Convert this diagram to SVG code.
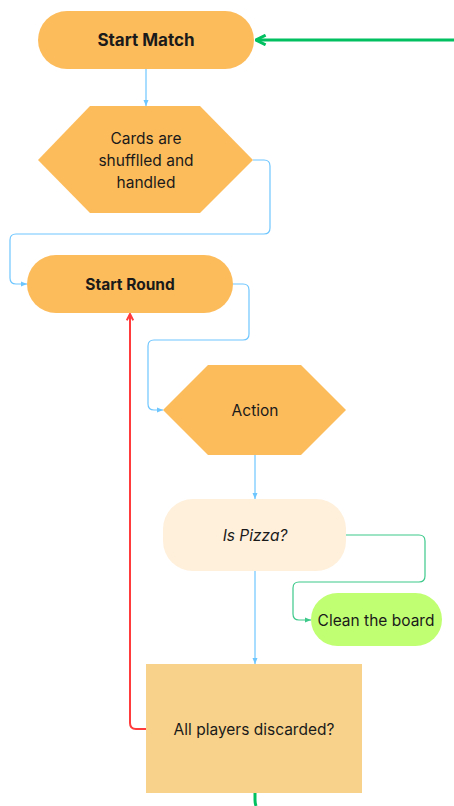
<svg xmlns="http://www.w3.org/2000/svg" width="454" height="806" viewBox="0 0 454 806">
<style>
text{font-family:Inter,"Noto Sans","Liberation Sans",sans-serif;fill:#1a1a1a;text-anchor:middle;dominant-baseline:central}
.b{font-weight:700;font-size:15.5px}
.n{font-size:15.5px}
.node{fill:#FDBC5C}
.blue{fill:none;stroke:#6EC6FF;stroke-width:1.2}
</style>
<defs>
<marker id="ab" viewBox="0 0 6 6" refX="6" refY="3" markerWidth="5" markerHeight="5" orient="auto"><path d="M0,0.5 L6,3 L0,5.5 Z" fill="#6EC6FF"/></marker>
<marker id="ag" viewBox="0 0 6 6" refX="6" refY="3" markerWidth="5" markerHeight="5" orient="auto"><path d="M0,0.5 L6,3 L0,5.5 Z" fill="#3CC98A"/></marker>
<marker id="ar" viewBox="0 0 10 10" refX="9" refY="5" markerWidth="4" markerHeight="4" orient="auto"><path d="M1,1 L9,5 L1,9" fill="none" stroke="#FF3B3B" stroke-width="2.5"/></marker>
<marker id="agg" viewBox="0 0 10 10" refX="9" refY="5" markerWidth="4" markerHeight="4" orient="auto"><path d="M1,1 L9,5 L1,9" fill="none" stroke="#00C060" stroke-width="2.5"/></marker>
</defs>
<g id="connectors">
<path class="blue" d="M146,69 V106" marker-end="url(#ab)"/>
<path class="blue" d="M253,160 H264 Q270,160 270,166 V228 Q270,234 264,234 H16 Q10,234 10,240 V278 Q10,284 16,284 H27" marker-end="url(#ab)"/>
<path class="blue" d="M233,284 H243 Q249,284 249,290 V334 Q249,340 243,340 H154 Q148,340 148,346 V404 Q148,410 154,410 H163" marker-end="url(#ab)"/>
<path class="blue" d="M255,455 V499" marker-end="url(#ab)"/>
<path fill="none" stroke="#3CC98A" stroke-width="1.2" d="M346,535 H419 Q425,535 425,541 V576 Q425,582 419,582 H299 Q293,582 293,588 V614 Q293,620 299,620 H311" marker-end="url(#ag)"/>
<path class="blue" d="M255,571 V664" marker-end="url(#ab)"/>
<path fill="none" stroke="#FF3B3B" stroke-width="2" d="M146,729 H136 Q130,729 130,723 V314" marker-end="url(#ar)"/>
<path fill="none" stroke="#00C060" stroke-width="3" d="M454,40 H256" marker-end="url(#agg)"/>
<path fill="none" stroke="#00C060" stroke-width="3" d="M255,793 V800 Q255,803 256,806"/>
</g>
<g id="start-match">
<rect class="node" x="38" y="11" width="216" height="58" rx="29"/>
<text class="b" x="146" y="40" style="font-size:17px">Start Match</text>
</g>
<g id="cards">
<polygon class="node" points="90,106 200,106 253,160 200,213 90,213 38,160"/>
<text class="n" x="146" y="138">Cards are</text>
<text class="n" x="146" y="160">shufflled and</text>
<text class="n" x="146" y="182">handled</text>
</g>
<g id="start-round">
<rect class="node" x="27" y="255" width="206" height="58" rx="29"/>
<text class="b" x="130" y="284">Start Round</text>
</g>
<g id="action">
<polygon class="node" points="208,365 301,365 346,410 301,455 208,455 163,410"/>
<text class="n" x="255" y="410">Action</text>
</g>
<g id="is-pizza">
<rect x="163" y="499" width="183" height="72" rx="30" fill="#FFF0DC"/>
<text class="n" x="255" y="535" font-style="italic">Is Pizza?</text>
</g>
<g id="clean">
<rect x="311" y="593" width="131" height="53" rx="26.5" fill="#C1FF72"/>
<text class="n" x="376" y="620">Clean the board</text>
</g>
<g id="discarded">
<rect x="146" y="664" width="216" height="129" fill="#F8D28A"/>
<text class="n" x="254" y="729">All players discarded?</text>
</g>
</svg>
